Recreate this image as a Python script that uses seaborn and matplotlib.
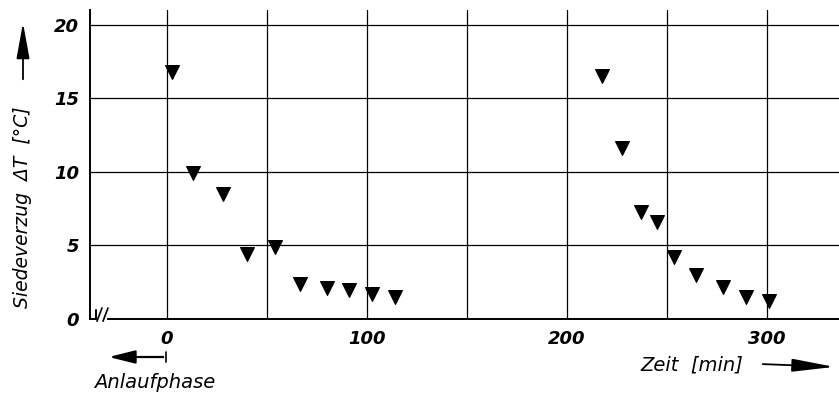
import matplotlib
matplotlib.use("Agg")
import matplotlib.pyplot as plt
from matplotlib.patches import FancyArrowPatch
from matplotlib.lines import Line2D
import seaborn as sns
import pandas as pd

# --- data ---
zeit_min = [2.5, 13, 28, 40, 54, 66.5, 80, 91, 102.5, 114,
            217.5, 227.5, 237, 245, 253.5, 264.5, 278, 289.5, 301]
siedeverzug = [16.8, 9.9, 8.5, 4.4, 4.9, 2.4, 2.1, 2.0, 1.7, 1.5,
               16.5, 11.6, 7.3, 6.6, 4.2, 3.0, 2.2, 1.5, 1.2]
x_ticks = [0, 100, 200, 300]
y_ticks = [0, 5, 10, 15, 20]

df = pd.DataFrame({"Zeit": zeit_min, "dT": siedeverzug})

sns.set_style("white")
plt.rcParams["font.family"] = ["DejaVu Sans"]
plt.rcParams["font.style"] = "italic"
plt.rcParams["text.color"] = "black"
plt.rcParams["xtick.color"] = "black"
plt.rcParams["ytick.color"] = "black"

fig = plt.figure(figsize=(8.39, 3.95), dpi=100)
ax = fig.add_axes([90 / 839, 1 - 319 / 395, 1 - 90 / 839, (319 - 10) / 395])

# grid drawn by hand so it matches the paper: every 50 min, every 5 K
for gx in range(0, 351, 50):
    ax.axvline(gx, color="black", lw=0.9, zorder=1)
for gy in y_ticks[1:]:
    ax.axhline(gy, color="black", lw=0.9, zorder=1)

sns.scatterplot(data=df, x="Zeit", y="dT", marker="v", s=100,
                color="black", edgecolor="black", linewidth=0.8,
                ax=ax, zorder=3, legend=False)

ax.set_xlim(-38.5, 336)
ax.set_ylim(0, 21)
ax.set_xticks(x_ticks)
ax.set_yticks(y_ticks)
ax.tick_params(length=0, labelsize=13, pad=8)
for lab in ax.get_xticklabels() + ax.get_yticklabels():
    lab.set_fontstyle("italic")
    lab.set_fontweight("bold")
ax.set_xlabel("")
ax.set_ylabel("")

for s in ["top", "right"]:
    ax.spines[s].set_visible(False)
ax.spines["left"].set_color("black")
ax.spines["left"].set_linewidth(1.4)
ax.spines["bottom"].set_color("black")
ax.spines["bottom"].set_linewidth(1.4)
ax.spines["bottom"].set_bounds(-29.5, 336)

# axis break at the bottom left
ax.plot([-38.5, -35.5], [0, 0], color="black", lw=1.4, clip_on=False)
ax.plot([-35.5, -35.5], [0, 0.6], color="black", lw=1.4, clip_on=False)
ax.plot([-35, -32.5], [-0.15, 0.75], color="black", lw=1.2, clip_on=False)
ax.plot([-32, -29.5], [-0.15, 0.75], color="black", lw=1.2, clip_on=False)

# y label with upward arrow
fig.text(23 / 839, 1 - 207 / 395, "Siedeverzug  ΔT  [°C]", rotation=90,
         ha="center", va="center", fontsize=13.5, style="italic")
fig.add_artist(FancyArrowPatch(
    (23, 395 - 82), (23, 395 - 20), transform=None,
    arrowstyle="-|>,head_length=22,head_width=4", color="black", lw=1.3))

# x label with arrow to the right
fig.text(692 / 839, 1 - 365 / 395, "Zeit  [min]", ha="center", va="center",
         fontsize=14, style="italic")
fig.add_artist(FancyArrowPatch(
    (760, 395 - 364), (837, 395 - 367), transform=None,
    arrowstyle="-|>,head_length=26,head_width=4", color="black", lw=1.3))

# start-up phase marker
fig.text(155 / 839, 1 - 382 / 395, "Anlaufphase", ha="center", va="center",
         fontsize=14, style="italic")
fig.add_artist(FancyArrowPatch(
    (166, 395 - 357), (106, 395 - 357), transform=None,
    arrowstyle="-|>,head_length=16,head_width=4", color="black", lw=1.6))
fig.add_artist(Line2D([166, 166], [395 - 352, 395 - 362], transform=None,
                      color="black", lw=1.2))

fig.savefig("out.png", dpi=100)
